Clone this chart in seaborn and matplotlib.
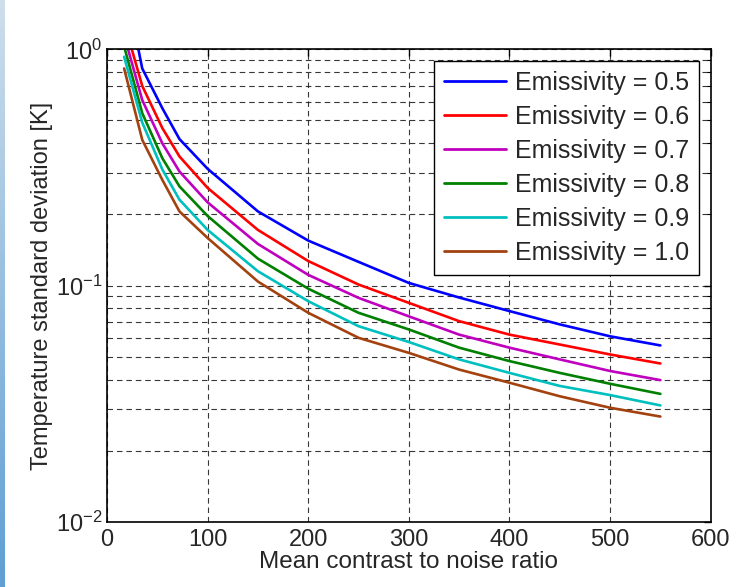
import numpy as np
import pandas as pd
import matplotlib
matplotlib.use("Agg")
import matplotlib.pyplot as plt
from matplotlib.ticker import LogLocator, NullFormatter, FixedLocator
import seaborn as sns

# mean contrast to noise ratio
cnr = [17, 35, 55, 72, 100, 150, 200, 250, 300, 350, 400, 450, 500, 550]

# temperature standard deviation [K] per emissivity
std_05 = [2.0, 0.83, 0.563, 0.417, 0.312, 0.206, 0.155, 0.126, 0.1026, 0.089, 0.078, 0.0685, 0.061, 0.0558]
std_06 = [1.3, 0.70, 0.464, 0.352, 0.259, 0.172, 0.127, 0.101, 0.0845, 0.0707, 0.062, 0.0563, 0.0511, 0.0468]
std_07 = [1.15, 0.61, 0.40, 0.304, 0.225, 0.150, 0.111, 0.0887, 0.0741, 0.062, 0.0546, 0.0487, 0.0435, 0.0398]
std_08 = [1.03, 0.537, 0.346, 0.263, 0.197, 0.130, 0.097, 0.0767, 0.0652, 0.0546, 0.0479, 0.0427, 0.0384, 0.0348]
std_09 = [0.93, 0.49, 0.31, 0.231, 0.172, 0.115, 0.0859, 0.0673, 0.0577, 0.0487, 0.0427, 0.0376, 0.0344, 0.0311]
std_10 = [0.83, 0.414, 0.28, 0.206, 0.159, 0.104, 0.0767, 0.0601, 0.0519, 0.0441, 0.0388, 0.034, 0.0304, 0.0279]

labels = ["Emissivity = 0.5", "Emissivity = 0.6", "Emissivity = 0.7",
          "Emissivity = 0.8", "Emissivity = 0.9", "Emissivity = 1.0"]
colors = ["#0000ff", "#ff0000", "#bf00bf", "#008000", "#00bfbf", "#a3420f"]

frames = []
for lab, vals in zip(labels, [std_05, std_06, std_07, std_08, std_09, std_10]):
    frames.append(pd.DataFrame({"cnr": cnr, "std": vals, "series": lab}))
df = pd.concat(frames, ignore_index=True)

sns.set_style("white")
plt.rcParams["font.family"] = ["Liberation Sans", "DejaVu Sans"]
plt.rcParams["mathtext.fontset"] = "custom"
plt.rcParams["mathtext.rm"] = "Liberation Sans"

fig = plt.figure(figsize=(7.38, 5.87), dpi=100)
ax = fig.add_axes([0.145, 0.111, 0.818, 0.805])

sns.lineplot(data=df, x="cnr", y="std", hue="series", palette=colors,
             estimator=None, sort=False, linewidth=1.9, ax=ax)

ax.set_yscale("log")
ax.set_xlim(0, 600)
ax.set_ylim(0.01, 1)
ax.set_xticks([0, 100, 200, 300, 400, 500, 600])
ax.yaxis.set_major_locator(FixedLocator([0.01, 0.1, 1]))
ax.yaxis.set_minor_locator(LogLocator(base=10, subs=np.arange(2, 10)))
ax.yaxis.set_minor_formatter(NullFormatter())

grid_kw = dict(color="#222222", linestyle=(0, (5, 3.5)), linewidth=0.8, alpha=0.9)
ax.grid(True, which="major", axis="both", **grid_kw)
ax.grid(True, which="minor", axis="y", **grid_kw)
ax.set_axisbelow(True)

ax.tick_params(axis="both", which="both", direction="in", top=True, right=True,
               labelsize=17, color="black")
ax.tick_params(axis="x", which="major", pad=5)
ax.tick_params(which="major", length=5, width=1)
ax.tick_params(which="minor", length=3, width=0.8)
for sp in ax.spines.values():
    sp.set_color("black")
    sp.set_linewidth(1.2)

ax.set_xlabel("Mean contrast to noise ratio", fontsize=17.5, labelpad=0)
ax.set_ylabel("Temperature standard deviation [K]", fontsize=17, labelpad=2)

leg = ax.legend(loc="upper right", fontsize=18, frameon=True, fancybox=False,
                edgecolor="black", framealpha=1, handlelength=2.5,
                borderaxespad=0.45, labelspacing=0.4, borderpad=0.4, handletextpad=0.35)
leg.get_frame().set_linewidth(1.0)
for line in leg.get_lines():
    line.set_linewidth(2.0)

# light blue strip along the left edge of the screenshot
strip = fig.add_axes([0, 0, 0.006, 1])
grad = np.linspace(0, 1, 256).reshape(-1, 1)
strip.imshow(grad, aspect="auto", cmap=sns.light_palette("#5f9fd4", as_cmap=True),
             vmin=-0.3, vmax=1.0, origin="upper")
strip.axis("off")

fig.savefig("out.png", dpi=100)
